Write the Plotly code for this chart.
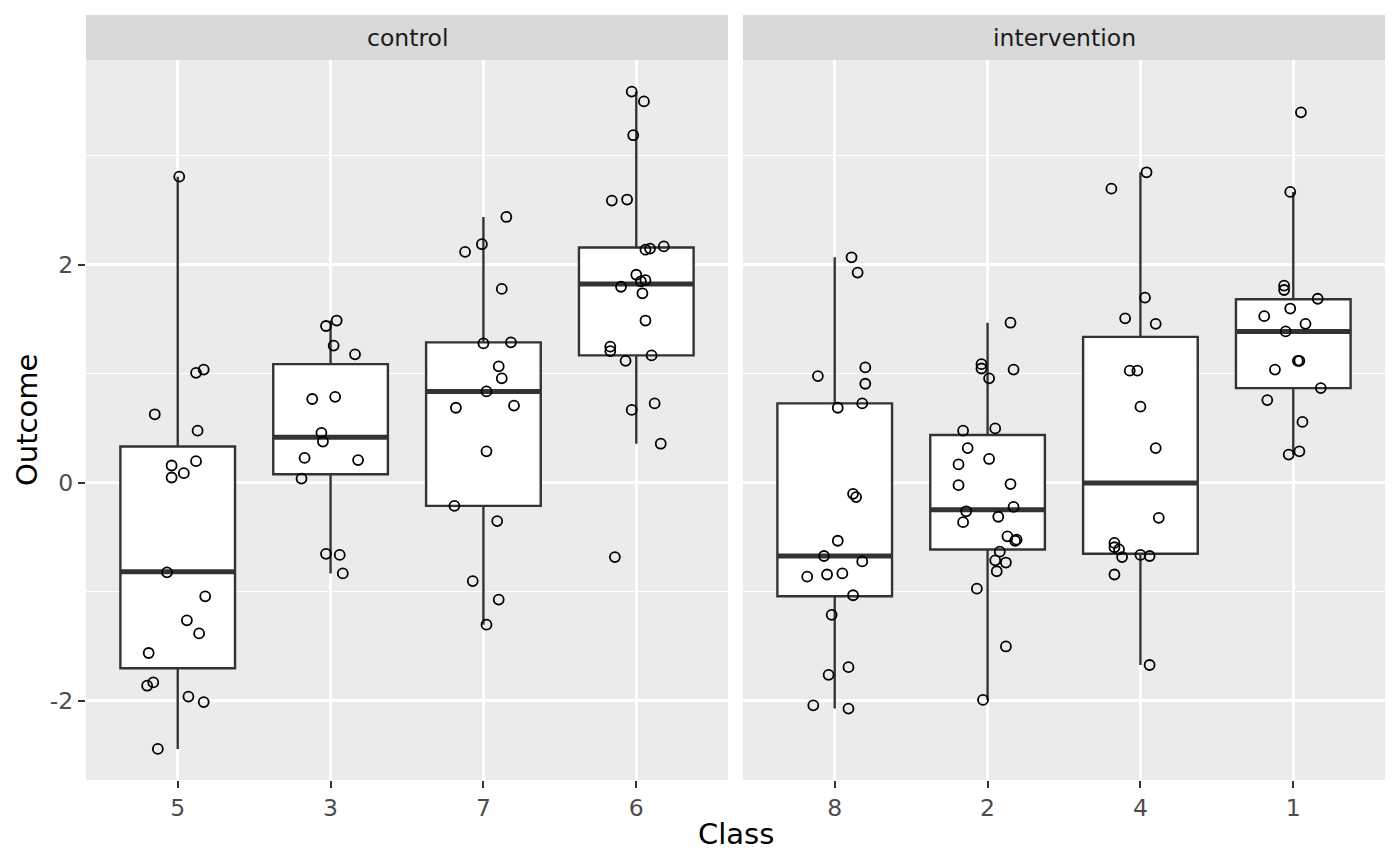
import plotly.graph_objects as go
from plotly.subplots import make_subplots

# facet labels and class order per facet
facets = ["control", "intervention"]
control_classes = ["5", "3", "7", "6"]
intervention_classes = ["8", "2", "4", "1"]

outcome_5 = [2.81, 1.01, 1.04, 0.63, 0.48, 0.20, 0.16, 0.09, 0.05, -0.82, -1.04, -1.26, -1.38, -1.56, -1.83, -1.86, -1.96, -2.01, -2.44]
jitter_5 = [0.01, 0.12, 0.17, -0.15, 0.13, 0.12, -0.04, 0.04, -0.04, -0.07, 0.18, 0.06, 0.14, -0.19, -0.16, -0.20, 0.07, 0.17, -0.13]
outcome_3 = [1.49, 1.44, 1.26, 1.18, 0.79, 0.77, 0.46, 0.38, 0.23, 0.21, 0.04, -0.65, -0.66, -0.83]
jitter_3 = [0.04, -0.03, 0.02, 0.16, 0.03, -0.12, -0.06, -0.05, -0.17, 0.18, -0.19, -0.03, 0.06, 0.08]
outcome_7 = [2.44, 2.19, 2.12, 1.78, 1.28, 1.29, 1.07, 0.96, 0.84, 0.69, 0.71, 0.29, -0.21, -0.35, -0.90, -1.07, -1.30]
jitter_7 = [0.15, -0.01, -0.12, 0.12, 0.00, 0.18, 0.10, 0.12, 0.02, -0.18, 0.20, 0.02, -0.19, 0.09, -0.07, 0.10, 0.02]
outcome_6 = [3.59, 3.50, 3.19, 2.59, 2.60, 2.14, 2.15, 2.17, 1.91, 1.85, 1.86, 1.80, 1.74, 1.49, 1.25, 1.21, 1.12, 1.17, 0.73, 0.67, 0.36, -0.68]
jitter_6 = [-0.03, 0.05, -0.02, -0.16, -0.06, 0.06, 0.09, 0.18, 0.00, 0.03, 0.06, -0.10, 0.04, 0.06, -0.17, -0.17, -0.07, 0.10, 0.12, -0.03, 0.16, -0.14]
outcome_8 = [2.07, 1.93, 1.06, 0.98, 0.91, 0.73, 0.69, -0.10, -0.13, -0.53, -0.67, -0.72, -0.86, -0.84, -0.83, -1.03, -1.21, -1.69, -1.76, -2.04, -2.07]
jitter_8 = [0.11, 0.15, 0.20, -0.11, 0.20, 0.18, 0.02, 0.12, 0.14, 0.02, -0.07, 0.18, -0.18, -0.05, 0.05, 0.12, -0.02, 0.09, -0.04, -0.14, 0.09]
outcome_2 = [1.47, 1.09, 1.05, 1.04, 0.96, 0.48, 0.50, 0.32, 0.22, 0.17, -0.02, -0.01, -0.22, -0.26, -0.36, -0.31, -0.49, -0.53, -0.52, -0.63, -0.71, -0.73, -0.81, -0.97, -1.50, -1.99]
jitter_2 = [0.15, -0.04, -0.04, 0.17, 0.01, -0.16, 0.05, -0.13, 0.01, -0.19, -0.19, 0.15, 0.17, -0.14, -0.16, 0.07, 0.13, 0.18, 0.19, 0.08, 0.05, 0.12, 0.06, -0.07, 0.12, -0.03]
outcome_4 = [2.85, 2.70, 1.70, 1.51, 1.46, 1.03, 1.03, 0.70, 0.32, -0.32, -0.55, -0.59, -0.61, -0.68, -0.66, -0.67, -0.84, -1.67]
jitter_4 = [0.04, -0.19, 0.03, -0.10, 0.10, -0.07, -0.02, 0.00, 0.10, 0.12, -0.17, -0.17, -0.14, -0.12, 0.00, 0.06, -0.17, 0.06]
outcome_1 = [3.40, 2.67, 1.81, 1.77, 1.69, 1.60, 1.53, 1.46, 1.39, 1.12, 1.12, 1.04, 0.87, 0.76, 0.56, 0.29, 0.26]
jitter_1 = [0.05, -0.02, -0.06, -0.06, 0.16, -0.02, -0.19, 0.08, -0.05, 0.03, 0.04, -0.12, 0.18, -0.17, 0.06, 0.04, -0.03]

# box statistics (same class order as above)
control_q1 = [-1.70, 0.08, -0.21, 1.17]
control_median = [-0.815, 0.42, 0.84, 1.825]
control_q3 = [0.335, 1.09, 1.29, 2.16]
control_lower = [-2.44, -0.83, -1.30, 0.36]
control_upper = [2.81, 1.49, 2.44, 3.59]
intervention_q1 = [-1.04, -0.61, -0.65, 0.87]
intervention_median = [-0.67, -0.245, 0.0, 1.39]
intervention_q3 = [0.73, 0.44, 1.34, 1.685]
intervention_lower = [-2.07, -1.99, -1.67, 0.26]
intervention_upper = [2.07, 1.47, 2.85, 2.67]

y_major = [-2, 0, 2]
y_minor = [-3, -1, 1, 3]

control_points = [(outcome_5, jitter_5), (outcome_3, jitter_3), (outcome_7, jitter_7), (outcome_6, jitter_6)]
intervention_points = [(outcome_8, jitter_8), (outcome_2, jitter_2), (outcome_4, jitter_4), (outcome_1, jitter_1)]

FONT = "DejaVu Sans"
BOX_W = 0.75
# the page body adds an 8px margin, so the figure is a bit smaller than the window
W, H = 1392, 857
PLOT_W = W - 78 - 15
PLOT_H = H - 52 - 85

fig = make_subplots(rows=1, cols=2, horizontal_spacing=15 / PLOT_W, shared_yaxes=True)

panels = [
    (control_classes, control_points, control_q1, control_median, control_q3, control_lower, control_upper),
    (intervention_classes, intervention_points, intervention_q1, intervention_median, intervention_q3,
     intervention_lower, intervention_upper),
]

for col, (classes, points, q1, med, q3, lo, hi) in enumerate(panels, start=1):
    pos = list(range(1, len(classes) + 1))
    fig.add_trace(go.Box(
        x=pos, q1=q1, median=med, q3=q3, lowerfence=lo, upperfence=hi,
        orientation="v", width=BOX_W, whiskerwidth=0, boxpoints=False,
        fillcolor="white", line=dict(color="#333333", width=2.4),
        hoverinfo="skip", showlegend=False,
    ), row=1, col=col)
    # thick median bars like ggplot
    for p, m in zip(pos, med):
        fig.add_trace(go.Scatter(
            x=[p - BOX_W / 2, p + BOX_W / 2], y=[m, m], mode="lines",
            line=dict(color="#333333", width=5), hoverinfo="skip", showlegend=False,
        ), row=1, col=col)
    for p, (ys, js) in zip(pos, points):
        fig.add_trace(go.Scatter(
            x=[p + j for j in js], y=ys, mode="markers",
            marker=dict(symbol="circle-open", size=10, color="black", line=dict(width=1.8)),
            showlegend=False,
        ), row=1, col=col)
    fig.update_xaxes(
        range=[0.4, len(classes) + 0.6], tickmode="array", tickvals=pos, ticktext=classes,
        showgrid=True, gridcolor="white", gridwidth=2.8, zeroline=False, showline=False,
        ticks="outside", ticklen=7, tickwidth=2.2, tickcolor="#333333",
        tickfont=dict(family=FONT, size=23.5, color="#4D4D4D"),
        row=1, col=col,
    )

fig.update_yaxes(
    range=[-2.725, 3.88], tickmode="array", tickvals=y_major, ticktext=[str(v) for v in y_major],
    showgrid=True, gridcolor="white", gridwidth=2.8, zeroline=False, showline=False,
    minor=dict(tickvals=y_minor, showgrid=True, gridcolor="white", gridwidth=1.4, ticks=""),
    tickfont=dict(family=FONT, size=23.5, color="#4D4D4D"),
)
fig.update_yaxes(ticks="outside", ticklen=7, tickwidth=2.2, tickcolor="#333333", row=1, col=1)
fig.update_yaxes(showticklabels=False, ticks="", row=1, col=2)

# facet strips
strip_h = 45 / PLOT_H
for i, name in enumerate(facets):
    xa = "x" if i == 0 else "x2"
    fig.add_shape(type="rect", xref=xa + " domain", yref="paper", x0=0, x1=1, y0=1, y1=1 + strip_h,
                  fillcolor="#D9D9D9", line=dict(width=0), layer="below")
    fig.add_annotation(text=name, xref=xa + " domain", yref="paper", x=0.5, y=1 + strip_h / 2,
                       showarrow=False, xanchor="center", yanchor="middle",
                       font=dict(family=FONT, size=23.5, color="#1A1A1A"))

fig.add_annotation(text="Outcome", xref="paper", yref="paper", x=-59 / PLOT_W, y=0.5, textangle=-90,
                   showarrow=False, xanchor="center", yanchor="middle",
                   font=dict(family=FONT, size=29, color="black"))
fig.add_annotation(text="Class", xref="paper", yref="paper", x=0.5, y=-54 / PLOT_H,
                   showarrow=False, xanchor="center", yanchor="middle",
                   font=dict(family=FONT, size=29, color="black"))

fig.update_layout(
    width=W, height=H,
    margin=dict(l=78, r=15, t=52, b=85),
    paper_bgcolor="white", plot_bgcolor="#EBEBEB",
    font=dict(family=FONT),
    showlegend=False,
)

fig.write_html("out.html")
